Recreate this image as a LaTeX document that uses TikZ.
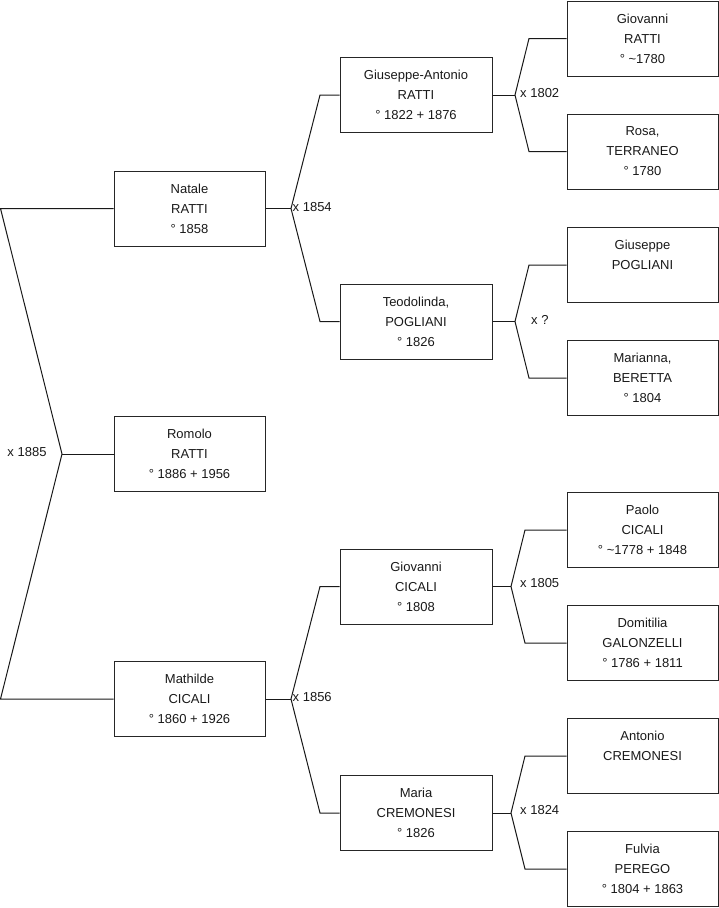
\documentclass[tikz,border=0pt]{standalone}
\usepackage{fontspec}
\setmainfont{Liberation Sans}
\begin{document}
\begin{tikzpicture}[x=1pt,y=-1pt,
  person/.style={draw=black!85, line width=1pt, minimum width=151pt, minimum height=75pt,
    inner sep=0pt, align=center, font=\fontsize{13}{20}\selectfont, text=black!90},
  link/.style={draw=black!90, line width=1pt},
  marr/.style={font=\fontsize{13}{16}\selectfont, inner sep=0pt, text=black!90}]
\useasboundingbox (0,0) rectangle (719,908);
% generation 0/1
\node[person] (natale) at (189.5,208.5) {Natale\\RATTI\\° 1858};
\node[person] (romolo) at (189.5,454) {Romolo\\RATTI\\° 1886 + 1956};
\node[person] (mathilde) at (189.5,699) {Mathilde\\CICALI\\° 1860 + 1926};
% generation 2
\node[person, minimum width=152pt] (ga) at (416,95) {Giuseppe-Antonio\\RATTI\\° 1822 + 1876};
\node[person, minimum width=152pt] (teo) at (416,321.5) {Teodolinda,\\POGLIANI\\° 1826};
\node[person, minimum width=152pt] (gioc) at (416,586.5) {Giovanni\\CICALI\\° 1808};
\node[person, minimum width=152pt] (maria) at (416,813) {Maria\\CREMONESI\\° 1826};
% generation 3
\node[person] (gior) at (642.5,38.5) {Giovanni\\RATTI\\° \textasciitilde 1780};
\node[person] (rosa) at (642.5,151.5) {Rosa,\\TERRANEO\\° 1780};
\node[person] (giup) at (642.5,265) {Giuseppe\\POGLIANI\\\mbox{}};
\node[person] (mari) at (642.5,378) {Marianna,\\BERETTA\\° 1804};
\node[person] (paolo) at (642.5,530) {Paolo\\CICALI\\° \textasciitilde 1778 + 1848};
\node[person] (dom) at (642.5,643) {Domitilia\\GALONZELLI\\° 1786 + 1811};
\node[person] (ant) at (642.5,756) {Antonio\\CREMONESI\\\mbox{}};
\node[person] (ful) at (642.5,869) {Fulvia\\PEREGO\\° 1804 + 1863};
% junction coordinates
\coordinate (j0) at (62,454);
\coordinate (e0a) at (0.5,208.5);
\coordinate (e0b) at (0.5,699);
\coordinate (j1) at (291,208.5);
\coordinate (c1a) at (320,95);
\coordinate (c1b) at (320,321.5);
\coordinate (j6) at (291,699);
\coordinate (c6a) at (320,586.5);
\coordinate (c6b) at (320,813);
\coordinate (j2) at (515,95);
\coordinate (c2a) at (529,38.5);
\coordinate (c2b) at (529,151.5);
\coordinate (j3) at (515,321.5);
\coordinate (c3a) at (529,265);
\coordinate (c3b) at (529,378);
\coordinate (j4) at (511,586.5);
\coordinate (c4a) at (525,530);
\coordinate (c4b) at (525,643);
\coordinate (j5) at (511,813);
\coordinate (c5a) at (525,756);
\coordinate (c5b) at (525,869);
% connectors
\draw[link] (natale.west) -- (e0a) -- (j0) -- (e0b) -- (mathilde.west);
\draw[link] (j0) -- (romolo.west);
\draw[link] (natale.east) -- (j1);
\draw[link] (ga.west) -- (c1a) -- (j1) -- (c1b) -- (teo.west);
\draw[link] (mathilde.east) -- (j6);
\draw[link] (gioc.west) -- (c6a) -- (j6) -- (c6b) -- (maria.west);
\draw[link] (ga.east) -- (j2);
\draw[link] (gior.west) -- (c2a) -- (j2) -- (c2b) -- (rosa.west);
\draw[link] (teo.east) -- (j3);
\draw[link] (giup.west) -- (c3a) -- (j3) -- (c3b) -- (mari.west);
\draw[link] (gioc.east) -- (j4);
\draw[link] (paolo.west) -- (c4a) -- (j4) -- (c4b) -- (dom.west);
\draw[link] (maria.east) -- (j5);
\draw[link] (ant.west) -- (c5a) -- (j5) -- (c5b) -- (ful.west);
% marriage labels
\node[marr] (m0) at (27,452) {x 1885};
\node[marr, anchor=west] (m1) at (292.5,207) {x 1854};
\node[marr, anchor=west] (m6) at (292.5,697) {x 1856};
\node[marr, anchor=west] (m2) at (520,93) {x 1802};
\node[marr, anchor=west] (m3) at (531,320) {x ?};
\node[marr, anchor=west] (m4) at (520,583) {x 1805};
\node[marr, anchor=west] (m5) at (520,810) {x 1824};
\end{tikzpicture}
\end{document}
